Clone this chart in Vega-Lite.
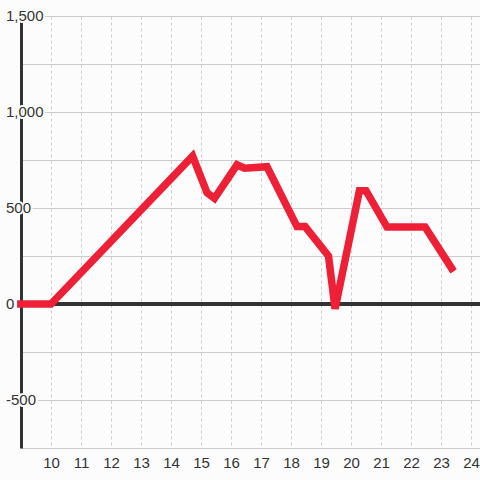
{
  "$schema": "https://vega.github.io/schema/vega-lite/v6.json",
  "width": 459,
  "height": 432,
  "autosize": "none",
  "padding": {"left": 21, "top": 16, "right": 0, "bottom": 32},
  "background": "#fcfcfc",
  "config": {"view": {"stroke": null}, "font": "Liberation Sans"},
  "datasets": {
    "series": [
      {"x": 8.87, "v": 0},
      {"x": 10, "v": 0},
      {"x": 14.72, "v": 770},
      {"x": 15.2, "v": 580},
      {"x": 15.45, "v": 550},
      {"x": 16.2, "v": 725},
      {"x": 16.45, "v": 707},
      {"x": 17.2, "v": 715},
      {"x": 18.2, "v": 403},
      {"x": 18.47, "v": 403},
      {"x": 19.25, "v": 250},
      {"x": 19.47, "v": -25},
      {"x": 20.28, "v": 590},
      {"x": 20.5, "v": 590},
      {"x": 21.2, "v": 401},
      {"x": 22.47, "v": 401},
      {"x": 23.42, "v": 170}
    ],
    "ylabels": [
      {"v": 1500, "t": "1,500"},
      {"v": 1000, "t": "1,000"},
      {"v": 500, "t": "500"},
      {"v": 0, "t": "0"},
      {"v": -500, "t": "-500"}
    ]
  },
  "layer": [
    {
      "data": {"name": "series"},
      "mark": {"type": "rule", "color": "#333333", "strokeWidth": 3},
      "encoding": {
        "y": {"datum": 0, "type": "quantitative",
          "scale": {"domain": [-750, 1500], "nice": false, "zero": false},
          "axis": {"values": [-750, -500, -250, 0, 250, 500, 750, 1000, 1250, 1500], "title": null, "labels": false, "ticks": false, "domain": true, "domainColor": "#333333", "domainWidth": 3, "grid": true, "gridColor": "#cccccc", "gridWidth": 1, "zindex": 0}}
      }
    },
    {
      "data": {"name": "series"},
      "mark": {"type": "line", "color": "#ee2036", "strokeWidth": 7.5, "strokeCap": "butt", "strokeJoin": "miter"},
      "encoding": {
        "x": {"field": "x", "type": "quantitative",
          "scale": {"domain": [9, 24.3], "nice": false, "zero": false},
          "axis": {"values": [10, 11, 12, 13, 14, 15, 16, 17, 18, 19, 20, 21, 22, 23, 24], "title": null, "domain": false, "ticks": false, "grid": true, "gridColor": "#cccccc", "gridDash": [3, 3], "gridWidth": 1, "labelFontSize": 15, "labelColor": "#333333", "labelPadding": 7, "labelFont": "Liberation Sans", "labelOverlap": false, "labelFlush": false, "zindex": 0}},
        "y": {"field": "v", "type": "quantitative",
          "scale": {"domain": [-750, 1500], "nice": false, "zero": false},
          "axis": {"values": [-750, -500, -250, 0, 250, 500, 750, 1000, 1250, 1500], "title": null, "labels": false, "ticks": false, "domain": true, "domainColor": "#333333", "domainWidth": 3, "grid": true, "gridColor": "#cccccc", "gridWidth": 1, "zindex": 0}}
      }
    },
    {
      "data": {"name": "ylabels"},
      "mark": {"type": "text", "align": "left", "baseline": "middle", "dx": -15, "fontSize": 15, "font": "Liberation Sans", "fill": "#fcfcfc", "stroke": "#fcfcfc", "strokeWidth": 4},
      "encoding": {
        "x": {"datum": 9, "type": "quantitative",
          "scale": {"domain": [9, 24.3], "nice": false, "zero": false},
          "axis": {"values": [10, 11, 12, 13, 14, 15, 16, 17, 18, 19, 20, 21, 22, 23, 24], "title": null, "domain": false, "ticks": false, "grid": true, "gridColor": "#cccccc", "gridDash": [3, 3], "gridWidth": 1, "labelFontSize": 15, "labelColor": "#333333", "labelPadding": 7, "labelFont": "Liberation Sans", "labelOverlap": false, "labelFlush": false, "zindex": 0}},
        "y": {"field": "v", "type": "quantitative",
          "scale": {"domain": [-750, 1500], "nice": false, "zero": false},
          "axis": {"values": [-750, -500, -250, 0, 250, 500, 750, 1000, 1250, 1500], "title": null, "labels": false, "ticks": false, "domain": true, "domainColor": "#333333", "domainWidth": 3, "grid": true, "gridColor": "#cccccc", "gridWidth": 1, "zindex": 0}},
        "text": {"field": "t"}
      }
    },
    {
      "data": {"name": "ylabels"},
      "mark": {"type": "text", "align": "left", "baseline": "middle", "dx": -15, "fontSize": 15, "font": "Liberation Sans", "fill": "#333333"},
      "encoding": {
        "x": {"datum": 9, "type": "quantitative",
          "scale": {"domain": [9, 24.3], "nice": false, "zero": false},
          "axis": {"values": [10, 11, 12, 13, 14, 15, 16, 17, 18, 19, 20, 21, 22, 23, 24], "title": null, "domain": false, "ticks": false, "grid": true, "gridColor": "#cccccc", "gridDash": [3, 3], "gridWidth": 1, "labelFontSize": 15, "labelColor": "#333333", "labelPadding": 7, "labelFont": "Liberation Sans", "labelOverlap": false, "labelFlush": false, "zindex": 0}},
        "y": {"field": "v", "type": "quantitative",
          "scale": {"domain": [-750, 1500], "nice": false, "zero": false},
          "axis": {"values": [-750, -500, -250, 0, 250, 500, 750, 1000, 1250, 1500], "title": null, "labels": false, "ticks": false, "domain": true, "domainColor": "#333333", "domainWidth": 3, "grid": true, "gridColor": "#cccccc", "gridWidth": 1, "zindex": 0}},
        "text": {"field": "t"}
      }
    }
  ]
}
